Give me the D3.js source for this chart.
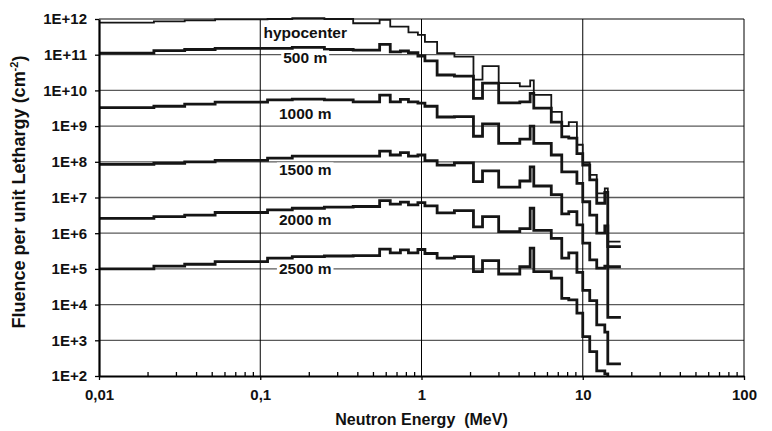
<!DOCTYPE html>
<html>
<head>
<meta charset="utf-8">
<script src="https://cdn.jsdelivr.net/npm/d3@7"></script>
<style>
  body { margin: 0; background: #fff; }
  svg { display: block; font-family: 'Liberation Sans', Arial, Helvetica, sans-serif; }
  .tick text { font-size: 15px; font-weight: bold; fill: #111; }
</style>
</head>
<body>
<svg width="772" height="431"></svg>
<script>
// group boundaries (MeV), one value per group in every series below
const energyEdges = [0.01, 0.0219, 0.034, 0.0525, 0.111, 0.158, 0.25, 0.377, 0.55, 0.64, 0.74, 0.83, 0.95, 1.05, 1.25, 1.6,
  2.1, 2.39, 3.01, 4.07, 4.72, 4.97, 6.38, 7.41, 8.19, 9.2, 10.0, 11.05, 12.21, 13.7, 14.3, 16.9]

const hypocenter = [7.9e11, 8.6e11, 9.2e11, 9.8e11, 1.0e12, 1.05e12, 1.0e12, 7.6e11, 9.4e11, 6.1e11, 6.1e11, 4.2e11, 3.6e11, 2.3e11, 1.1e11,
  8.8e10, 2.0e10, 4.8e10, 1.6e10, 1.3e10, 1.9e10, 7.5e9, 2.5e9, 1.0e9, 1.3e9, 3.0e8, 9.4e7, 4.3e7, 1.3e7, 1.8e7, 5.8e5]
const m500 = [1.1e11, 1.3e11, 1.4e11, 1.5e11, 1.5e11, 1.6e11, 1.4e11, 1.35e11, 1.95e11, 1.2e11, 1.27e11, 1.14e11, 9.2e10, 6.7e10, 2.7e10,
  2.5e10, 6.0e9, 1.6e10, 4.5e9, 4.8e9, 8.3e9, 3.2e9, 1.3e9, 5.0e8, 4.6e8, 1.7e8, 8.1e7, 3.1e7, 6.9e6, 1.4e7, 4.2e5]
const m1000 = [3.3e9, 3.6e9, 4.1e9, 4.7e9, 5.4e9, 5.7e9, 5.4e9, 4.8e9, 7.4e9, 4.8e9, 5.6e9, 4.8e9, 4.4e9, 3.6e9, 1.8e9,
  1.85e9, 5.2e8, 1.15e9, 3.3e8, 4.3e8, 1.0e9, 3.3e8, 1.55e8, 5.2e7, 5.2e7, 2.5e7, 7.6e6, 3.2e6, 1.0e6, 1.6e6, 1.15e5]
const m1500 = [8.5e7, 9.1e7, 1.0e8, 1.1e8, 1.26e8, 1.45e8, 1.45e8, 1.45e8, 2.0e8, 1.55e8, 1.8e8, 1.45e8, 1.55e8, 1.08e8, 8.1e7,
  9.3e7, 2.8e7, 5.6e7, 1.95e7, 2.9e7, 7.2e7, 2.1e7, 1.2e7, 3.5e6, 4.0e6, 1.7e6, 5.3e5, 1.8e5, 1.05e5, 1.2e5, 4.4e3]
const m2000 = [2.6e6, 2.9e6, 3.2e6, 3.8e6, 4.5e6, 5.0e6, 5.4e6, 5.6e6, 8.2e6, 6.5e6, 7.4e6, 6.2e6, 7.2e6, 5.8e6, 3.7e6,
  4.3e6, 1.5e6, 2.9e6, 1.1e6, 1.35e6, 5.0e6, 1.2e6, 7.2e5, 2.0e5, 2.8e5, 8.0e4, 2.5e4, 1.3e4, 2.7e3, 1.7e3, 2.2e2]
const m2500 = [1.0e5, 1.2e5, 1.35e5, 1.6e5, 2.0e5, 2.2e5, 2.3e5, 2.35e5, 3.6e5, 2.8e5, 3.4e5, 2.8e5, 3.5e5, 2.7e5, 2.0e5,
  2.2e5, 8.4e4, 1.7e5, 7.2e4, 1.15e5, 3.8e5, 8.4e4, 5.5e4, 1.5e4, 1.35e4, 5.8e3, 1.26e3, 4.8e2, 1.4e2, 1.15e2, 10]

const seriesNames = ['hypocenter', '500 m', '1000 m', '1500 m', '2000 m', '2500 m']
const seriesValues = [hypocenter, m500, m1000, m1500, m2000, m2500]
// where each curve name sits, in (MeV, fluence)
const labelAnchors = [[0.19, 4.3e11], [0.19, 8.1e10], [0.19, 2.3e9], [0.19, 5.9e7], [0.19, 2.35e6], [0.19, 1.0e5]]

const xTickValues = [0.01, 0.1, 1, 10, 100]
const xTickLabels = ['0,01', '0,1', '1', '10', '100']
const yTickValues = [1e2, 1e3, 1e4, 1e5, 1e6, 1e7, 1e8, 1e9, 1e10, 1e11, 1e12]
const yTickLabels = ['1E+2', '1E+3', '1E+4', '1E+5', '1E+6', '1E+7', '1E+8', '1E+9', '1E+10', '1E+11', '1E+12']

const margin = {left: 99, top: 19, right: 28, bottom: 55}
const svg = d3.select('svg')
const width = +svg.attr('width') - margin.left - margin.right
const height = +svg.attr('height') - margin.top - margin.bottom
const g = svg.append('g')
  .attr('transform', 'translate(' + margin.left + ',' + margin.top + ')')

const x = d3.scaleLog().domain([0.01, 100]).range([0, width])
const y = d3.scaleLog().domain([1e2, 1e12]).range([height, 0])

// grid
g.append('g')
  .selectAll('line')
  .data(yTickValues.slice(1))
  .enter()
  .append('line')
  .attr('x1', 0)
  .attr('x2', width)
  .attr('y1', d => y(d))
  .attr('y2', d => y(d))
  .attr('stroke', '#5a5a5a')
  .attr('stroke-width', 1.3)
g.append('g')
  .selectAll('line')
  .data(xTickValues.slice(1))
  .enter()
  .append('line')
  .attr('x1', d => x(d))
  .attr('x2', d => x(d))
  .attr('y1', 0)
  .attr('y2', height)
  .attr('stroke', '#000')
  .attr('stroke-width', 1)

// curves
svg.append('defs').append('clipPath')
  .attr('id', 'plot')
  .append('rect')
  .attr('x', 0)
  .attr('y', -10)
  .attr('width', width)
  .attr('height', height + 10)

const line = d3.line()
  .curve(d3.curveStepAfter)
  .x(d => x(d[0]))
  .y(d => y(d[1]))

g.append('g')
  .attr('clip-path', 'url(#plot)')
  .selectAll('path')
  .data(seriesValues)
  .enter()
  .append('path')
  .attr('d', vals => line(energyEdges.map((e, i) => [e, vals[Math.min(i, vals.length - 1)]])))
  .attr('fill', 'none')
  .attr('stroke', '#151515')
  .attr('stroke-width', (d, i) => i === 0 ? 1.8 : 2.8)
  .attr('stroke-linejoin', 'miter')
  .attr('stroke-linecap', 'square')

// curve names on white boxes
const label = g.append('g')
  .selectAll('g')
  .data(seriesNames)
  .enter()
  .append('g')
  .attr('transform', (d, i) => 'translate(' + x(labelAnchors[i][0]) + ',' + y(labelAnchors[i][1]) + ')')
label.append('text')
  .attr('text-anchor', 'middle')
  .attr('dy', '0.35em')
  .style('font-size', '15.5px')
  .style('font-weight', 'bold')
  .attr('fill', '#111')
  .text(d => d)
label.each(function () {
  const box = d3.select(this).select('text').node().getBBox()
  d3.select(this).insert('rect', 'text')
    .attr('x', box.x - 2)
    .attr('y', box.y + 1)
    .attr('width', box.width + 4)
    .attr('height', box.height - 2)
    .attr('fill', '#fff')
})

// axes
g.append('g')
  .call(d3.axisLeft(y)
    .tickValues(yTickValues)
    .tickFormat((d, i) => yTickLabels[i])
    .tickSize(4)
    .tickSizeOuter(0)
    .tickPadding(8))
const xMinor = []
xTickValues.slice(0, -1).forEach(d => { for (let k = 2; k < 10; k++) xMinor.push(d * k) })
g.append('g')
  .attr('transform', 'translate(0,' + height + ')')
  .call(d3.axisBottom(x).tickValues(xMinor).tickFormat('').tickSize(-4))
  .call(a => a.select('.domain').remove())
g.append('g')
  .attr('transform', 'translate(0,' + height + ')')
  .call(d3.axisBottom(x)
    .tickValues(xTickValues)
    .tickFormat((d, i) => xTickLabels[i])
    .tickSize(4)
    .tickSizeOuter(0)
    .tickPadding(9))
g.selectAll('.domain').attr('stroke', '#000').attr('stroke-width', 2.2)
g.selectAll('.tick line').attr('stroke', '#000').attr('stroke-width', 1.3)

// titles
svg.append('text')
  .attr('x', margin.left + x(1))
  .attr('y', 425)
  .attr('text-anchor', 'middle')
  .style('font-size', '16px')
  .style('font-weight', 'bold')
  .style('white-space', 'pre')
  .attr('fill', '#111')
  .text('Neutron Energy  (MeV)')
const yTitle = svg.append('text')
  .attr('transform', 'translate(24.5,192) rotate(-90)')
  .attr('text-anchor', 'middle')
  .style('font-size', '18px')
  .style('font-weight', 'bold')
  .attr('fill', '#111')
yTitle.append('tspan').text('Fluence per unit Lethargy (cm')
yTitle.append('tspan').attr('dy', -7).style('font-size', '11px').text('-2')
yTitle.append('tspan').attr('dy', 7).text(')')
</script>
</body>
</html>
